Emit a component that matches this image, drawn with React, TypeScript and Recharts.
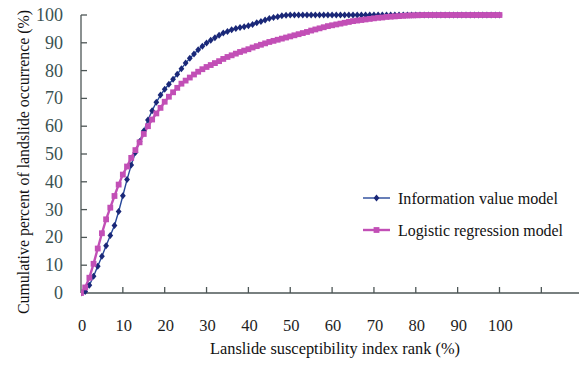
import React from "react";
import { LineChart, Line, XAxis, YAxis } from "recharts";

const ranks = [
  0, 1, 2, 3, 4, 5, 6, 7, 8, 9, 10, 11, 12, 13, 14, 15, 16, 17, 18, 19, 20,
  21, 22, 23, 24, 25, 26, 27, 28, 29, 30, 31, 32, 33, 34, 35, 36, 37, 38, 39, 40,
  41, 42, 43, 44, 45, 46, 47, 48, 49, 50, 51, 52, 53, 54, 55, 56, 57, 58, 59, 60,
  61, 62, 63, 64, 65, 66, 67, 68, 69, 70, 71, 72, 73, 74, 75, 76, 77, 78, 79, 80,
  81, 82, 83, 84, 85, 86, 87, 88, 89, 90, 91, 92, 93, 94, 95, 96, 97, 98, 99, 100,
];

const informationValue = [
  0, 0.5, 2.8, 6, 9.6, 13.2, 17, 20.7, 24.3, 29.3, 35, 40.8, 46, 50.5, 54.5, 58.3, 62.2, 65.6, 68.6, 71.2, 73.3,
  75.1, 76.9, 78.7, 80.7, 82.7, 84.4, 86, 87.5, 88.8, 89.9, 90.9, 91.8, 92.7, 93.5, 94.1, 94.7, 95.1, 95.5, 95.8, 96.1,
  96.6, 97.2, 97.7, 98.2, 98.7, 99.1, 99.4, 99.7, 99.9, 100, 100, 100, 100, 100, 100, 100, 100, 100, 100, 100,
  100, 100, 100, 100, 100, 100, 100, 100, 100, 100, 100, 100, 100, 100, 100, 100, 100, 100, 100, 100,
  100, 100, 100, 100, 100, 100, 100, 100, 100, 100, 100, 100, 100, 100, 100, 100, 100, 100, 100, 100,
];

const logisticRegression = [
  0, 2, 5.5, 10.5, 16, 21.5, 26.5, 30.7, 34.9, 39, 42.6, 45.5, 48.6, 51.4, 54.2, 57.2, 60, 62.4, 64.6, 66.6, 68.8,
  70.6, 72.2, 73.8, 75.3, 76.4, 77.5, 78.6, 79.6, 80.5, 81.3, 82, 82.7, 83.4, 84.2, 84.9, 85.5, 86.1, 86.7, 87.2, 87.7,
  88.3, 88.8, 89.3, 89.8, 90.3, 90.7, 91.1, 91.5, 91.9, 92.3, 92.7, 93.1, 93.5, 93.9, 94.4, 94.8, 95.2, 95.6, 96, 96.3,
  96.6, 96.9, 97.2, 97.5, 97.8, 98, 98.2, 98.4, 98.6, 98.8, 99, 99.1, 99.3, 99.4, 99.5, 99.6, 99.7, 99.8, 99.85, 99.9,
  99.95, 100, 100, 100, 100, 100, 100, 100, 100, 100, 100, 100, 100, 100, 100, 100, 100, 100, 100, 100,
];

const xTicks = [0, 10, 20, 30, 40, 50, 60, 70, 80, 90, 100, 110];
const yTicks = [0, 10, 20, 30, 40, 50, 60, 70, 80, 90, 100];

const seriesNames = ["Information value model", "Logistic regression model"];
const xTitle = "Lanslide susceptibility index rank (%)";
const yTitle = "Cumulative percent of landslide occurrence (%)";

const data = ranks.map((r, i) => ({
  rank: r,
  info: informationValue[i],
  logit: logisticRegression[i],
}));

const BLUE_LINE = "#27489a";
const BLUE_MARK = "#1a2878";
const PINK = "#c24fb6";
const AXIS = "#4d5656";
const FONT = "'Liberation Serif', 'Times New Roman', serif";

const Diamond = (p: any) => {
  const { cx, cy, index } = p;
  if (cx == null || cy == null) return <g key={`d${index}`} />;
  return (
    <path
      key={`d${index}`}
      d={`M${cx},${cy - 3.5}L${cx + 2.9},${cy}L${cx},${cy + 3.5}L${cx - 2.9},${cy}Z`}
      fill={BLUE_MARK}
    />
  );
};

const Square = (p: any) => {
  const { cx, cy, index } = p;
  if (cx == null || cy == null) return <g key={`s${index}`} />;
  return <rect key={`s${index}`} x={cx - 2.9} y={cy - 2.9} width={5.8} height={5.8} fill={PINK} />;
};

const XTick = (p: any) => {
  const { x, y, payload } = p;
  const v = payload.value;
  return (
    <g>
      {v > 0 && <line x1={x} x2={x} y1={y} y2={y - 6} stroke={AXIS} strokeWidth={1.3} />}
      {v <= 100 && (
        <text x={x + 1} y={y + 38} textAnchor="middle" fontFamily={FONT} fontSize={16.5} fill="#1e1e1e">
          {v}
        </text>
      )}
    </g>
  );
};

const YTick = (p: any) => {
  const { x, y, payload } = p;
  return (
    <g>
      {payload.value > 0 && <line x1={x} x2={x + 6} y1={y} y2={y} stroke={AXIS} strokeWidth={1.3} />}
      <text x={x - 18} y={y + 6} textAnchor="end" fontFamily={FONT} fontSize={18} fill="#3b5252">
        {payload.value}
      </text>
    </g>
  );
};

export default function App() {
  return (
    <div style={{ position: "absolute", left: 0, top: 0, width: 579, height: 365, background: "#ffffff" }}>
      <LineChart width={579} height={365} data={data} margin={{ top: 15, right: 0, bottom: 0, left: 0 }}>
        <XAxis
          dataKey="rank"
          type="number"
          domain={[0, 119]}
          ticks={xTicks}
          interval={0}
          height={72}
          tickSize={0}
          tickMargin={0}
          tickLine={false}
          axisLine={{ stroke: AXIS, strokeWidth: 1.3 }}
          tick={<XTick />}
          allowDataOverflow
        />
        <YAxis
          type="number"
          domain={[0, 100]}
          ticks={yTicks}
          interval={0}
          width={81}
          tickSize={0}
          tickMargin={0}
          tickLine={false}
          axisLine={{ stroke: AXIS, strokeWidth: 1.3 }}
          tick={<YTick />}
        />
        <Line
          dataKey="info"
          name={seriesNames[0]}
          type="linear"
          stroke={BLUE_LINE}
          strokeWidth={1.4}
          dot={Diamond}
          activeDot={false}
          isAnimationActive={false}
        />
        <Line
          dataKey="logit"
          name={seriesNames[1]}
          type="linear"
          stroke={PINK}
          strokeWidth={2.4}
          dot={Square}
          activeDot={false}
          isAnimationActive={false}
        />
      </LineChart>
      <svg
        width={579}
        height={365}
        style={{ position: "absolute", left: 0, top: 0, pointerEvents: "none" }}
      >
        <text
          transform="translate(29,162) rotate(-90)"
          textAnchor="middle"
          fontFamily={FONT}
          fontSize={16}
          fill="#111"
          textLength={304}
          lengthAdjust="spacingAndGlyphs"
        >
          {yTitle}
        </text>
        <text
          x={335}
          y={354}
          textAnchor="middle"
          fontFamily={FONT}
          fontSize={17}
          fill="#111"
          textLength={250}
          lengthAdjust="spacingAndGlyphs"
        >
          {xTitle}
        </text>
        <g>
          <line x1={363} x2={390} y1={198} y2={198} stroke={BLUE_LINE} strokeWidth={1.4} />
          <path d="M376.5,194.5L379.4,198L376.5,201.5L373.6,198Z" fill={BLUE_MARK} />
          <text x={398} y={203.5} fontFamily={FONT} fontSize={17} fill="#111" textLength={160} lengthAdjust="spacingAndGlyphs">
            {seriesNames[0]}
          </text>
          <line x1={363} x2={390} y1={230} y2={230} stroke={PINK} strokeWidth={2.4} />
          <rect x={373.6} y={227.1} width={5.8} height={5.8} fill={PINK} />
          <text x={398} y={235.5} fontFamily={FONT} fontSize={17} fill="#111" textLength={165} lengthAdjust="spacingAndGlyphs">
            {seriesNames[1]}
          </text>
        </g>
      </svg>
    </div>
  );
}
